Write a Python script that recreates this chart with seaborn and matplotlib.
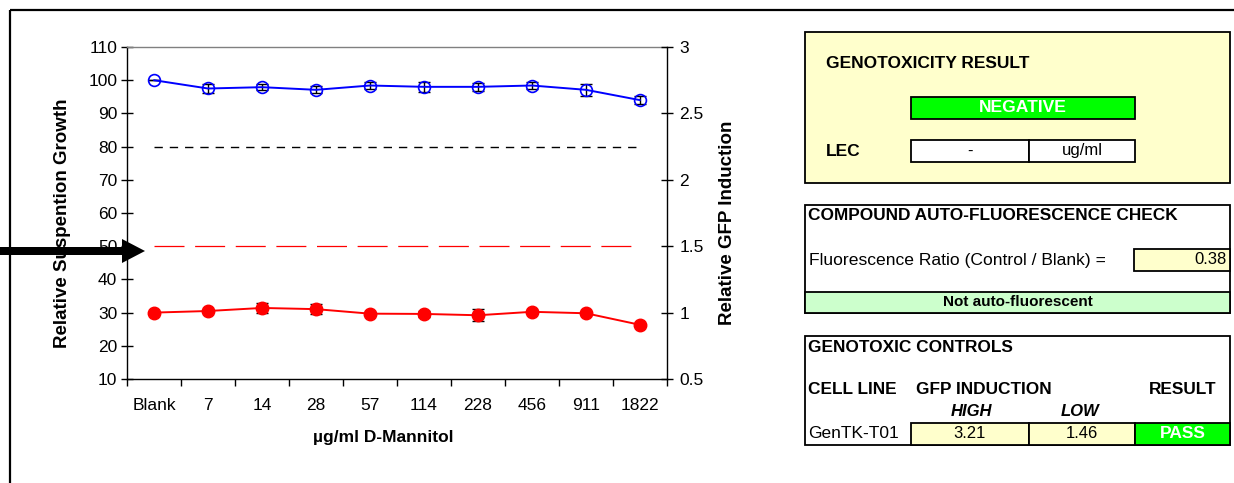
import numpy as np
import seaborn as sns
import matplotlib.pyplot as plt
from matplotlib.patches import Rectangle, FancyArrow
from matplotlib.ticker import FormatStrFormatter

# chart data
concentrations = ["Blank", "7", "14", "28", "57", "114", "228", "456", "911", "1822"]
growth = [100.0, 97.5, 97.9, 97.1, 98.4, 98.0, 98.0, 98.4, 97.1, 94.0]
growth_err = [0.0, 1.3, 1.0, 1.1, 1.1, 1.5, 1.3, 1.2, 1.8, 1.3]
gfp = [1.0, 1.012, 1.035, 1.026, 0.992, 0.99, 0.98, 1.006, 0.995, 0.908]
gfp_err = [0.0, 0.008, 0.035, 0.035, 0.012, 0.02, 0.047, 0.01, 0.01, 0.008]
growth_threshold = 80
gfp_threshold = 1.5

growth_ticks = list(range(10, 111, 10))
gfp_ticks = [0.5, 1, 1.5, 2, 2.5, 3]

# side panel values
result_text = "NEGATIVE"
lec_value = "-"
lec_unit = "ug/ml"
fluor_ratio = "0.38"
fluor_verdict = "Not auto-fluorescent"
cell_line = "GenTK-T01"
gfp_high = "3.21"
gfp_low = "1.46"
control_result = "PASS"

sns.set_theme(style="white")
plt.rcParams['font.family'] = ['Liberation Sans', 'DejaVu Sans']

W, H = 1234, 483
fig = plt.figure(figsize=(W / 100, H / 100), dpi=100)
ax = fig.add_axes([127 / W, 1 - 379 / H, 540 / W, 332 / H])
ax2 = ax.twinx()
x = np.arange(len(concentrations))

# threshold lines
ax.hlines(growth_threshold, x[0], x[-1], colors='black', lw=1, linestyles=(0, (6, 5)), zorder=1)
ax2.hlines(gfp_threshold, x[0], x[-1], colors='#FF0000', lw=0.9, linestyles=(0, (24, 8.5)), zorder=1)

# growth series (left axis)
ax.errorbar(x, growth, yerr=growth_err, fmt='none', ecolor='black', elinewidth=1,
            capsize=4, capthick=1, zorder=2)
sns.lineplot(x=x, y=growth, ax=ax, color='#0000FF', lw=1.4, marker='o', markersize=8.5,
             markerfacecolor='none', markeredgecolor='#0000FF', markeredgewidth=1.2, zorder=3)

# GFP series (right axis)
ax2.errorbar(x, gfp, yerr=gfp_err, fmt='none', ecolor='black', elinewidth=1,
             capsize=4, capthick=1, zorder=2)
sns.lineplot(x=x, y=gfp, ax=ax2, color='#FF0000', lw=1.4, marker='o', markersize=9,
             markerfacecolor='#FF0000', markeredgecolor='#FF0000', markeredgewidth=1, zorder=3)

ax.set_xlim(-0.5, len(concentrations) - 0.5)
ax.set_ylim(10, 110)
ax2.set_ylim(0.5, 3)
ax.set_yticks(growth_ticks)
ax2.set_yticks(gfp_ticks)
ax2.yaxis.set_major_formatter(FormatStrFormatter('%g'))

ax.set_xticks(x)
ax.set_xticklabels(concentrations)
ax.set_xticks(np.arange(-0.5, len(concentrations)), minor=True)
ax.tick_params(axis='x', which='major', bottom=True, length=0, pad=14, labelsize=12.5, labelcolor='black')
ax.tick_params(axis='x', which='minor', bottom=True, direction='out', length=5, width=1, color='black')
ax.tick_params(axis='y', left=True, direction='inout', length=8, width=1, color='black',
               labelsize=12.5, pad=3, labelcolor='black')
ax2.tick_params(axis='y', right=True, direction='inout', length=8, width=1, color='black',
                labelsize=12.5, pad=5, labelcolor='black')

for s in ax.spines.values():
    s.set_color('black')
    s.set_linewidth(1)
ax.spines['top'].set_color('#808080')
ax.spines['right'].set_visible(False)
for name, s in ax2.spines.items():
    s.set_visible(name == 'right')
    s.set_color('black')
    s.set_linewidth(1)

ax.set_xlabel("µg/ml D-Mannitol", fontsize=12.5, fontweight='bold', color='black')
ax.xaxis.set_label_coords((383 - 127) / 540, -(430 - 379) / 332)
ax.set_ylabel("Relative Suspention Growth", fontsize=13.5, fontweight='bold', color='black')
ax.yaxis.set_label_coords(-(127 - 71) / 540, 0.47)
ax2.set_ylabel("Relative GFP Induction", fontsize=13.5, fontweight='bold', color='black')
ax2.yaxis.set_label_coords((719 - 127) / 540, 0.47)

# overlay in pixel coordinates for frame, arrow and side panels
ov = fig.add_axes([0, 0, 1, 1], zorder=10)
ov.set_xlim(0, W)
ov.set_ylim(H, 0)
ov.axis('off')
ov.patch.set_alpha(0)

ov.plot([10, W], [10, 10], color='black', lw=1.6, solid_capstyle='butt')
ov.plot([10, 10], [10, H], color='black', lw=1.6, solid_capstyle='butt')
ov.add_patch(FancyArrow(0, 251, 145, 0, width=8, head_width=24, head_length=23,
                        length_includes_head=True, color='black', lw=0))

YELLOW = '#FFFFCC'
GREEN = '#00FF00'
LIGHT_GREEN = '#CCFFCC'


def box(x0, y0, w, h, fc, lw=1.3):
    ov.add_patch(Rectangle((x0, y0), w, h, facecolor=fc, edgecolor='black', lw=lw))


def txt(x0, y0, s, size=12, ha='left', **kw):
    ov.text(x0, y0, s, fontsize=size, ha=ha, va='center', color=kw.pop('color', 'black'), **kw)


# panel 1
box(805, 32, 425, 151, YELLOW)
txt(826, 64, "GENOTOXICITY RESULT", size=12.5, fontweight='bold')
box(911, 97, 224, 22, GREEN)
txt(1023, 108, result_text, size=12.6, ha='center', fontweight='bold', color='white')
txt(826, 152, "LEC", size=12.5, fontweight='bold')
box(911, 140, 118, 22, 'white')
box(1029, 140, 106, 22, 'white')
txt(970, 151, lec_value, ha='center')
txt(1082, 151, lec_unit, ha='center')

# panel 2
box(805, 205, 425, 108, 'white')
txt(808, 216, "COMPOUND AUTO-FLUORESCENCE CHECK", size=12.4, fontweight='bold')
txt(809, 260, "Fluorescence Ratio (Control / Blank) =", size=12.6)
box(1134, 249, 96, 22, YELLOW)
txt(1227, 260, fluor_ratio, ha='right')
box(805, 292, 425, 21, LIGHT_GREEN)
txt(1018, 302, fluor_verdict, size=11, ha='center', fontweight='bold')

# panel 3
box(805, 336, 425, 109, 'white')
txt(808, 347, "GENOTOXIC CONTROLS", size=12.4, fontweight='bold')
txt(808, 389, "CELL LINE", size=12.4, fontweight='bold')
txt(916, 389, "GFP INDUCTION", size=12.4, fontweight='bold')
txt(1183, 389, "RESULT", size=12.4, ha='center', fontweight='bold')
txt(971, 411, "HIGH", ha='center', fontweight='bold', fontstyle='italic')
txt(1080, 411, "LOW", ha='center', fontweight='bold', fontstyle='italic')
txt(808, 434, cell_line, size=12.5)
box(911, 423, 118, 22, YELLOW)
box(1029, 423, 106, 22, YELLOW)
box(1135, 423, 95, 22, GREEN)
txt(970, 434, gfp_high, ha='center')
txt(1082, 434, gfp_low, ha='center')
txt(1183, 434, control_result, size=12.5, ha='center', fontweight='bold', color='white')

fig.savefig('out.png', dpi=100)
